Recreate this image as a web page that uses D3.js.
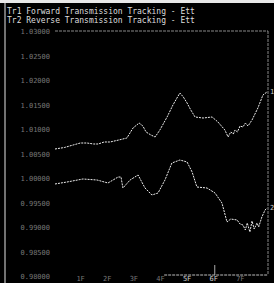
<!DOCTYPE html>
<html>
<head>
<meta charset="utf-8">
<script src="https://cdn.jsdelivr.net/npm/d3@7"></script>
<style>
  body { margin: 0; background: #000; }
  svg { display: block; }
</style>
</head>
<body>
<script>
let width = 274, height = 283;

// titres des traces
let titles = ["Tr1 Forward Transmission Tracking - Ett", "Tr2 Reverse Transmission Tracking - Ett"];

// graduations
let yTicks = [1.03, 1.025, 1.02, 1.015, 1.01, 1.005, 1.0, 0.995, 0.99, 0.985, 0.98];
let xTickPos = [1, 2, 3, 4, 5, 6, 7];
let xTickLabels = ["1F", "2F", "3F", "4F", "5F", "6F", "7F"];

// trace 1 (forward)
let tr1X = [0, 0.35, 0.68, 0.95, 1.2, 1.45, 1.62, 1.85, 2.07, 2.4, 2.7, 2.93, 3.16, 3.3, 3.42, 3.6, 3.76, 3.94, 4.21, 4.43, 4.69, 4.82, 4.96, 5.1, 5.26, 5.56, 5.9, 6.12, 6.38, 6.5, 6.6, 6.7, 6.76, 6.85, 6.95, 7.06, 7.15, 7.25, 7.4, 7.62, 7.81, 7.96];
let tr1Y = [1.00592, 1.00622, 1.00673, 1.00714, 1.00714, 1.00694, 1.00694, 1.00735, 1.00735, 1.00776, 1.00816, 1.0102, 1.01122, 1.01061, 1.00939, 1.00878, 1.00837, 1.0098, 1.01245, 1.0149, 1.01735, 1.01653, 1.01531, 1.01388, 1.01245, 1.01224, 1.01245, 1.01143, 1.0098, 1.00837, 1.00939, 1.00898, 1.0098, 1.00939, 1.01061, 1.01041, 1.01122, 1.01061, 1.01184, 1.01429, 1.01694, 1.01755];

// trace 2 (reverse)
let tr2X = [0, 0.45, 1.05, 1.58, 1.99, 2.37, 2.48, 2.55, 2.82, 3.12, 3.38, 3.64, 3.87, 4.13, 4.39, 4.69, 4.96, 5.15, 5.33, 5.71, 6.01, 6.27, 6.46, 6.6, 6.84, 6.95, 7.06, 7.15, 7.22, 7.32, 7.4, 7.48, 7.59, 7.65, 7.77, 7.89, 7.96];
let tr2Y = [0.99878, 0.99918, 0.9998, 0.99959, 0.99898, 1.0002, 1.0002, 0.99796, 0.99959, 1.00061, 0.99796, 0.99653, 0.99694, 0.99959, 1.00306, 1.00367, 1.00327, 1.00122, 0.99816, 0.99796, 0.99694, 0.9949, 0.99102, 0.99163, 0.99143, 0.99061, 0.99041, 0.98939, 0.99082, 0.98898, 0.99122, 0.98959, 0.99082, 0.99, 0.99204, 0.99347, 0.99388];

let svg = d3.select("body").append("svg")
  .attr("width", width)
  .attr("height", height);

svg.append("rect").attr("width", width).attr("height", height).attr("fill", "#000");

// bande blanche en haut et filet gauche
svg.append("rect").attr("x", 0).attr("y", 0).attr("width", width).attr("height", 3).attr("fill", "#e8e8e8");
svg.append("line").attr("x1", 5).attr("x2", 5).attr("y1", 3).attr("y2", height)
  .attr("stroke", "#999").attr("stroke-width", 1.5);

let x = d3.scaleLinear().domain([0, 8]).range([55, 268]);
let y = d3.scaleLinear().domain([0.98, 1.03]).range([276, 31]);

// titres
svg.selectAll("text.title")
  .data(titles)
  .enter().append("text")
  .attr("class", "title")
  .attr("x", 7)
  .attr("y", (d, i) => 14 + i * 9)
  .attr("fill", "#ddd")
  .style("font-family", "DejaVu Sans Mono")
  .style("font-size", "8px")
  .text(d => d);

// cadre
let frame = svg.append("g").attr("stroke", "#888").attr("stroke-width", 1).attr("fill", "none")
  .attr("stroke-dasharray", "3,1");
frame.append("line").attr("x1", x(0)).attr("x2", x(8)).attr("y1", y(1.03)).attr("y2", y(1.03));
frame.append("line").attr("x1", x(8)).attr("x2", x(8)).attr("y1", y(1.03)).attr("y2", 275);
frame.append("line").attr("x1", x(4.1)).attr("x2", x(8)).attr("y1", 275).attr("y2", 275)
  .attr("stroke", "#bbb").attr("stroke-dasharray", null);

// repère à 6
svg.append("line").attr("x1", x(6)).attr("x2", x(6)).attr("y1", 265).attr("y2", 275)
  .attr("stroke", "#aaa");

// étiquettes de l'axe Y
svg.selectAll("text.ytick")
  .data(yTicks)
  .enter().append("text")
  .attr("class", "ytick")
  .attr("x", 50)
  .attr("y", d => y(d) + 3)
  .attr("text-anchor", "end")
  .attr("fill", "#777")
  .style("font-family", "DejaVu Sans Mono")
  .style("font-size", "7px")
  .text(d => d3.format(".5f")(d));

// étiquettes de l'axe X
svg.selectAll("text.xtick")
  .data(xTickPos)
  .enter().append("text")
  .attr("class", "xtick")
  .attr("x", d => x(d) - 1)
  .attr("y", 281)
  .attr("text-anchor", "middle")
  .attr("fill", (d, i) => i >= 4 && i <= 5 ? "#ccc" : "#777")
  .style("font-family", "DejaVu Sans Mono")
  .style("font-size", "7px")
  .text((d, i) => xTickLabels[i]);

let line = d3.line().x(d => x(d[0])).y(d => y(d[1]));

let traces = [d3.zip(tr1X, tr1Y), d3.zip(tr2X, tr2Y)];

svg.selectAll("path.trace")
  .data(traces)
  .enter().append("path")
  .attr("class", "trace")
  .attr("d", line)
  .attr("fill", "none")
  .attr("stroke", "#eee")
  .attr("stroke-width", 1)
  .attr("stroke-dasharray", "2,1");

// numéros des traces
svg.selectAll("text.tnum")
  .data(traces)
  .enter().append("text")
  .attr("class", "tnum")
  .attr("x", d => x(d[d.length - 1][0]) + 3)
  .attr("y", d => y(d[d.length - 1][1]) + 2)
  .attr("fill", "#ccc")
  .style("font-family", "DejaVu Sans Mono")
  .style("font-size", "7px")
  .text((d, i) => i + 1);
</script>
</body>
</html>
